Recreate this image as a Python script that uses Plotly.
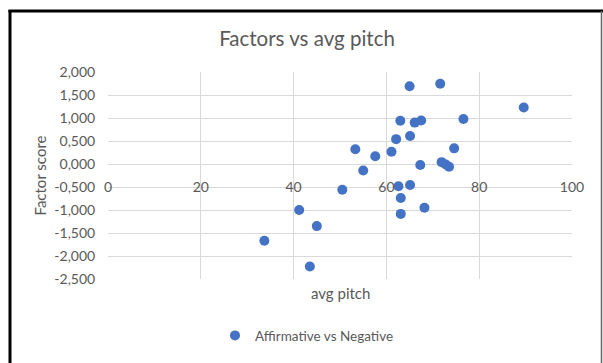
import plotly.graph_objects as go

# Average pitch per utterance and its factor score
avg_pitch = [33.7, 41.2, 43.5, 45.0, 50.5, 53.3, 55.0, 57.6, 61.1, 62.1,
             62.6, 63.0, 63.1, 63.1, 65.0, 65.1, 65.1, 66.1, 67.5, 67.3,
             68.2, 71.6, 71.9, 72.8, 73.5, 74.6, 76.6, 89.6]
factor_score = [-1.67, -1.00, -2.23, -1.35, -0.56, 0.32, -0.14, 0.17, 0.265, 0.54,
                -0.485, 0.94, -0.74, -1.085, 1.69, 0.61, -0.455, 0.90, 0.945, -0.02,
                -0.95, 1.745, 0.04, -0.01, -0.06, 0.34, 0.98, 1.23]
series_name = "Affirmative vs Negative"

x_ticks = [0, 20, 40, 60, 80, 100]
y_ticks = [2.0, 1.5, 1.0, 0.5, 0.0, -0.5, -1.0, -1.5, -2.0, -2.5]
y_tick_text = [f"{v:.3f}".replace(".", ",") for v in y_ticks]

W, H = 603, 363
L, R, T, B = 108, 572, 72, 284  # plot area in pixels


def px(xp):
    return (xp - L) / (R - L)


def py(yp):
    return (B - yp) / (B - T)


FONT = "Lato"
GREY = "#595959"
GRID = "#d9d9d9"

fig = go.Figure()
fig.add_trace(go.Scatter(
    x=avg_pitch, y=factor_score, mode="markers", name=series_name,
    marker=dict(color="#4472C4", size=10, line=dict(width=0)),
))

y_min, y_max = min(y_ticks), max(y_ticks)

fig.update_layout(
    width=W, height=H,
    margin=dict(l=L, r=W - R, t=T, b=H - B, pad=0),
    paper_bgcolor="white", plot_bgcolor="white",
    font=dict(family=FONT, color=GREY, size=14),
    title=dict(text="Factors vs avg pitch", x=px(307), xanchor="center",
               xref="paper", y=1 - 39 / H, yanchor="middle",
               font=dict(size=20.5, color=GREY, family=FONT)),
    showlegend=True,
    legend=dict(orientation="h", x=px(307), xanchor="center", y=py(342), yanchor="middle",
                font=dict(size=13.5, color=GREY, family=FONT), bgcolor="rgba(0,0,0,0)"),
    xaxis=dict(range=[0, 100], tickvals=x_ticks, showgrid=True, gridcolor=GRID, gridwidth=1,
               zeroline=False, showline=False, anchor="free",
               position=(0 - y_min) / (y_max - y_min),
               ticks="outside", ticklen=10, tickcolor="rgba(0,0,0,0)",
               tickfont=dict(size=14, color=GREY)),
    yaxis=dict(range=[y_min, y_max], tickvals=y_ticks, ticktext=y_tick_text,
               showgrid=True, gridcolor=GRID, gridwidth=1, zeroline=False, showline=False,
               ticks="outside", ticklen=9, tickcolor="rgba(0,0,0,0)",
               tickfont=dict(size=14, color=GREY)),
    annotations=[
        dict(text="Factor score", textangle=-90, x=px(39), y=0.5, xref="paper", yref="paper",
             showarrow=False, xanchor="center", yanchor="middle",
             font=dict(size=15, color=GREY, family=FONT)),
        dict(text="avg pitch", x=0.5, y=py(298), xref="paper", yref="paper",
             showarrow=False, xanchor="center", yanchor="middle",
             font=dict(size=15, color=GREY, family=FONT)),
    ],
    shapes=[
        dict(type="line", xref="paper", yref="paper", x0=px(10), x1=px(10),
             y0=py(8.5), y1=py(372), line=dict(color="black", width=3)),
        dict(type="line", xref="paper", yref="paper", x0=px(8.5), x1=px(603),
             y0=py(9.5), y1=py(9.5), line=dict(color="black", width=3)),
        dict(type="line", xref="paper", yref="paper", x0=px(601.5), x1=px(601.5),
             y0=py(9.5), y1=py(372), line=dict(color="#666666", width=1.5)),
    ],
)

fig.write_html("out.html")
